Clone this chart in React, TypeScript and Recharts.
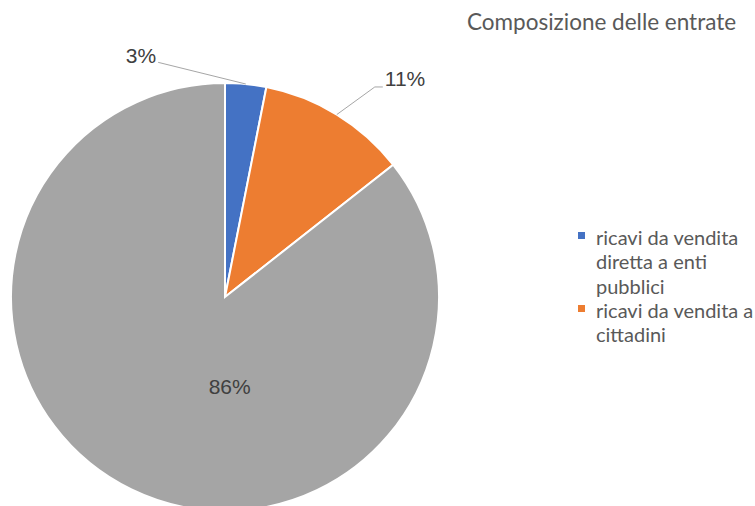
import { Cell, Legend, Pie, PieChart } from 'recharts';

const categories = [
  'ricavi da vendita diretta a enti pubblici',
  'ricavi da vendita a cittadini',
  'altre entrate',
];
const shares = [3.1, 11.3, 85.6];
const colors = ['#4472C4', '#ED7D31', '#A5A5A5'];

// where each label sits, in polar terms around the pie centre
const labelLayout = [
  { angle: 105.9, radius: 244, side: 'left', inside: false },
  { angle: 54.5, radius: 258, side: 'right', inside: false },
  { angle: -87, radius: 90, side: 'center', inside: true },
];

const data = categories.map((name, i) => ({ name, value: shares[i] }));

const RAD = Math.PI / 180;
const polar = (cx: number, cy: number, r: number, a: number) => ({
  x: cx + r * Math.cos(-a * RAD),
  y: cy + r * Math.sin(-a * RAD),
});

function renderLabel(props: any) {
  const { cx, cy, midAngle, outerRadius, percent, index } = props;
  const lay = labelLayout[index];
  const text = `${Math.round(percent * 100)}%`;
  const p = polar(cx, cy, lay.radius, lay.angle);
  const style = { fontFamily: '"Liberation Sans", Arial, sans-serif', fontSize: 21, fill: '#404040' };
  if (lay.inside) {
    return (
      <text x={p.x} y={p.y + 7} textAnchor="middle" style={style}>
        {text}
      </text>
    );
  }
  const a = polar(cx, cy, outerRadius, midAngle);
  if (lay.side === 'left') {
    return (
      <g>
        <path d={`M${a.x},${a.y}L${p.x},${p.y}`} stroke="#A6A6A6" strokeWidth={1} fill="none" />
        <text x={p.x - 2} y={p.y + 1} textAnchor="end" style={style}>
          {text}
        </text>
      </g>
    );
  }
  return (
    <g>
      <path d={`M${a.x},${a.y}L${p.x},${p.y}L${p.x + 8},${p.y}`} stroke="#A6A6A6" strokeWidth={1} fill="none" />
      <text x={p.x + 10} y={p.y - 1} textAnchor="start" style={style}>
        {text}
      </text>
    </g>
  );
}

function LegendBox() {
  return (
    <div style={{ fontFamily: 'Lato, "Open Sans", sans-serif', fontSize: 20, color: '#595959', lineHeight: '24.3px' }}>
      {categories.slice(0, 2).map((name, i) => (
        <div key={name} style={{ position: 'relative', paddingLeft: 18, width: 162 }}>
          <span
            style={{
              position: 'absolute',
              left: 0,
              top: 7,
              width: 7,
              height: 7,
              background: colors[i],
            }}
          />
          {name}
        </div>
      ))}
    </div>
  );
}

export default function App() {
  return (
    <div style={{ position: 'absolute', left: 0, top: 0, width: 755, height: 506, overflow: 'hidden', background: '#fff' }}>
      <div
        style={{
          position: 'absolute',
          left: 467,
          top: 8,
          fontFamily: 'Lato, "Open Sans", sans-serif',
          fontSize: 22.5,
          color: '#595959',
          whiteSpace: 'nowrap',
        }}
      >
        Composizione delle entrate
      </div>
      <PieChart width={755} height={506} margin={{ top: 0, right: 0, bottom: 0, left: 0 }}>
        <Pie
          data={data}
          dataKey="value"
          nameKey="name"
          cx={225}
          cy={297}
          outerRadius={214}
          startAngle={90}
          endAngle={-270}
          stroke="#fff"
          strokeWidth={2}
          label={renderLabel}
          labelLine={false}
          isAnimationActive={false}
        >
          {data.map((d, i) => (
            <Cell key={d.name} fill={colors[i]} />
          ))}
        </Pie>
        <Legend
          layout="vertical"
          content={<LegendBox />}
          wrapperStyle={{ position: 'absolute', left: 578, top: 225, width: 185 }}
        />
      </PieChart>
    </div>
  );
}
